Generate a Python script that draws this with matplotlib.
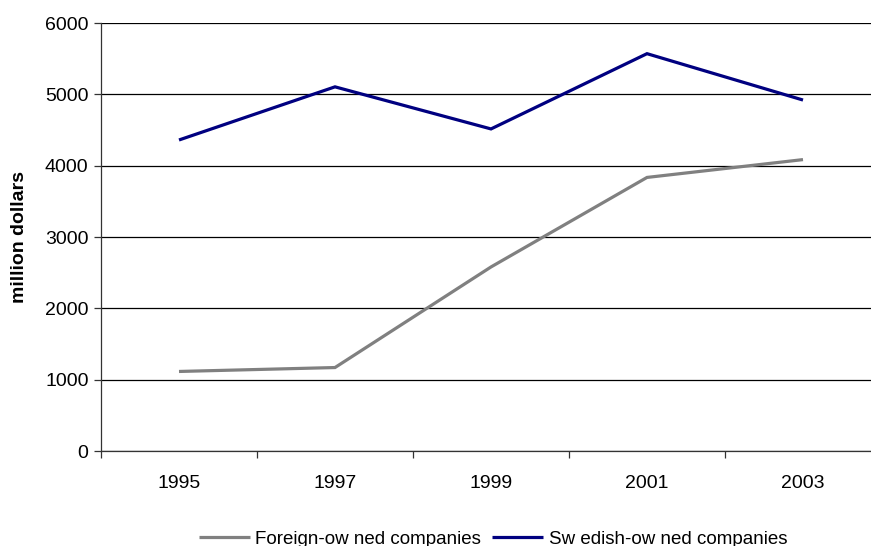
import matplotlib
matplotlib.use("Agg")
import matplotlib.pyplot as plt
import numpy as np

plt.rcParams['font.family'] = ['Liberation Sans', 'DejaVu Sans']

# data
years = ["1995", "1997", "1999", "2001", "2003"]
foreign_owned = [1115, 1170, 2580, 3835, 4085]
swedish_owned = [4360, 5105, 4515, 5570, 4920]

fig = plt.figure(figsize=(8.71, 5.46), dpi=100)
# plot area runs a little past the right edge of the picture, like the reference
ax = fig.add_axes([101 / 871, 1 - 451 / 546, 780 / 871, 428 / 546])

x = np.arange(len(years))
ax.plot(x, foreign_owned, color="#808080", lw=2.3, label="Foreign-ow ned companies",
        solid_joinstyle="miter", solid_capstyle="butt")
ax.plot(x, swedish_owned, color="#000080", lw=2.3, label="Sw edish-ow ned companies",
        solid_joinstyle="miter", solid_capstyle="butt")

ax.set_xlim(-0.5, len(years) - 0.5)
ax.set_ylim(0, 6000)
ax.set_yticks(range(0, 6001, 1000))
ax.grid(axis="y", color="black", lw=0.9)
ax.set_axisbelow(True)

# category labels in the middle, tick marks between categories
ax.set_xticks(x)
ax.set_xticklabels(years)
ax.set_xticks(np.arange(-0.5, len(years)), minor=True)
ax.tick_params(axis="x", which="major", length=0, pad=17, labelsize=14)
ax.tick_params(axis="x", which="minor", length=5, width=0.9, color="#333333")
ax.tick_params(axis="y", length=5, width=0.9, color="#333333", pad=4, labelsize=14)

for side in ["top", "right"]:
    ax.spines[side].set_visible(False)
for side in ["left", "bottom"]:
    ax.spines[side].set_color("#333333")
    ax.spines[side].set_linewidth(0.9)

ax.set_ylabel("million dollars", fontsize=14, fontweight="bold", labelpad=12)

fig.legend(loc="center", bbox_to_anchor=(493 / 871, 1 - 539 / 546), ncol=2,
           frameon=False, fontsize=13.5, handlelength=2.7, handletextpad=0.3,
           columnspacing=0.6)

fig.savefig("out.png", dpi=100)
